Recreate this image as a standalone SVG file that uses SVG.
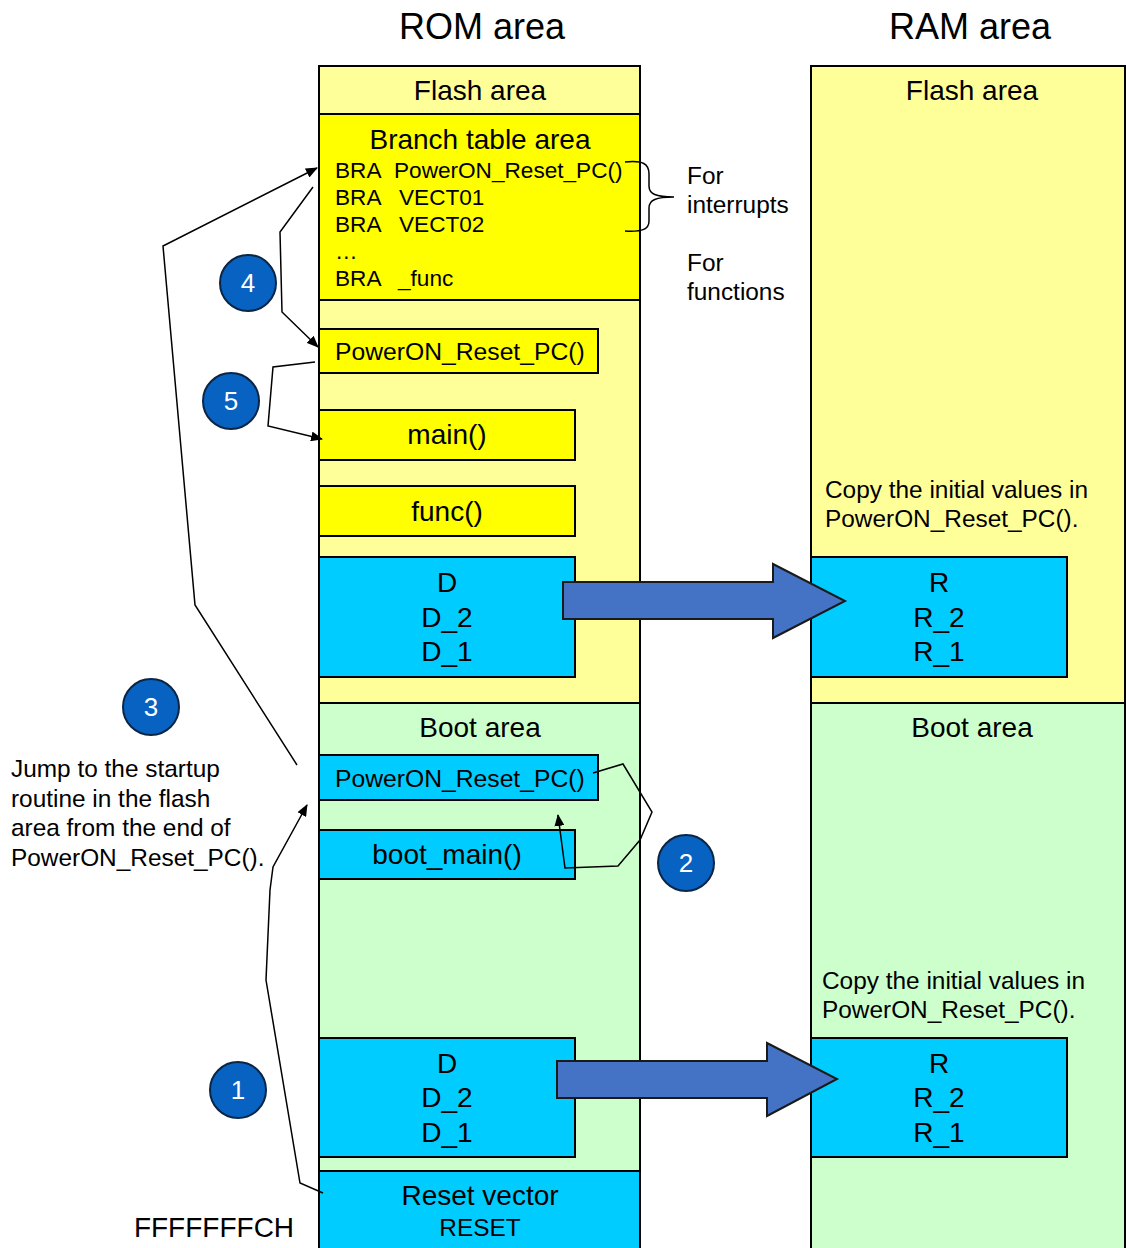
<svg xmlns="http://www.w3.org/2000/svg" width="1126" height="1248" viewBox="0 0 1126 1248">
  <style>
    text { font-family: "Liberation Sans", Arial, sans-serif; fill: #000; }
    .box { stroke: #000; stroke-width: 2; }
    .lflash { fill: #FFFF99; }
    .yel { fill: #FFFF00; }
    .boot { fill: #CCFFCC; }
    .cyan { fill: #00CCFF; }
    .t36 { font-size: 36px; text-anchor: middle; }
    .t28 { font-size: 28px; text-anchor: middle; }
    .t24 { font-size: 24.4px; }
    .t22 { font-size: 22.6px; }
    .mid { text-anchor: middle; }
    .conn { fill: none; stroke: #000; stroke-width: 1.5; }
    .big { fill: #4472C4; stroke: #1a1a1a; stroke-width: 2; }
    .step circle { fill: #0762C2; stroke: #0B2545; stroke-width: 2; }
    .step text { fill: #fff; font-size: 26px; text-anchor: middle; }
  </style>
  <defs>
    <marker id="head" markerUnits="userSpaceOnUse" markerWidth="12" markerHeight="10" refX="11" refY="5" orient="auto">
      <path d="M0,0 L12,5 L0,10 z" fill="#000"/>
    </marker>
  </defs>

  <rect width="1126" height="1248" fill="#fff"/>

  <!-- column titles -->
  <text class="t36" x="482" y="39">ROM area</text>
  <text class="t36" x="970" y="39">RAM area</text>

  <!-- ROM column -->
  <g id="rom-flash">
    <rect class="box lflash" x="319" y="66" width="321" height="637"/>
    <text class="t28" x="480" y="100">Flash area</text>
  </g>
  <g id="branch-table">
    <rect class="box yel" x="319" y="114" width="321" height="186"/>
    <text class="t28" x="480" y="149">Branch table area</text>
    <text class="t22" x="335" y="178">BRA<tspan x="394">PowerON_Reset_PC()</tspan></text>
    <text class="t22" x="335" y="205">BRA<tspan x="399">VECT01</tspan></text>
    <text class="t22" x="335" y="232">BRA<tspan x="399">VECT02</tspan></text>
    <text class="t22" x="335" y="259">…</text>
    <text class="t22" x="335" y="286">BRA<tspan x="398">_func</tspan></text>
  </g>
  <g id="flash-reset">
    <rect class="box yel" x="319" y="329" width="279" height="44"/>
    <text x="335" y="360" style="font-size:24.7px">PowerON_Reset_PC()</text>
  </g>
  <g id="flash-main">
    <rect class="box yel" x="319" y="410" width="256" height="50"/>
    <text class="t28" x="447" y="444">main()</text>
  </g>
  <g id="flash-func">
    <rect class="box yel" x="319" y="486" width="256" height="50"/>
    <text class="t28" x="447" y="521">func()</text>
  </g>
  <g id="flash-data">
    <rect class="box cyan" x="319" y="557" width="256" height="120"/>
    <text class="t28" x="447" y="592">D</text>
    <text class="t28" x="447" y="627">D_2</text>
    <text class="t28" x="447" y="661">D_1</text>
  </g>
  <g id="rom-boot">
    <rect class="box boot" x="319" y="703" width="321" height="468"/>
    <text class="t28" x="480" y="737">Boot area</text>
  </g>
  <g id="boot-reset">
    <rect class="box cyan" x="319" y="755" width="279" height="45"/>
    <text x="335" y="787" style="font-size:24.7px">PowerON_Reset_PC()</text>
  </g>
  <g id="boot-main">
    <rect class="box cyan" x="319" y="830" width="256" height="49"/>
    <text class="t28" x="447" y="864">boot_main()</text>
  </g>
  <g id="boot-data">
    <rect class="box cyan" x="319" y="1038" width="256" height="119"/>
    <text class="t28" x="447" y="1073">D</text>
    <text class="t28" x="447" y="1107">D_2</text>
    <text class="t28" x="447" y="1142">D_1</text>
  </g>
  <g id="reset-vector">
    <rect class="box cyan" x="319" y="1171" width="321" height="82"/>
    <text class="t28" x="480" y="1205">Reset vector</text>
    <text class="t24 mid" x="480" y="1236">RESET</text>
  </g>

  <!-- RAM column -->
  <g id="ram-flash">
    <rect class="box lflash" x="811" y="66" width="314" height="637"/>
    <text class="t28" x="972" y="100">Flash area</text>
    <text class="t24" x="825" y="498">Copy the initial values in</text>
    <text class="t24" x="825" y="527">PowerON_Reset_PC().</text>
  </g>
  <g id="ram-flash-data">
    <rect class="box cyan" x="811" y="557" width="256" height="120"/>
    <text class="t28" x="939" y="592">R</text>
    <text class="t28" x="939" y="627">R_2</text>
    <text class="t28" x="939" y="661">R_1</text>
  </g>
  <g id="ram-boot">
    <rect class="box boot" x="811" y="703" width="314" height="550"/>
    <text class="t28" x="972" y="737">Boot area</text>
    <text class="t24" x="822" y="989">Copy the initial values in</text>
    <text class="t24" x="822" y="1018">PowerON_Reset_PC().</text>
  </g>
  <g id="ram-boot-data">
    <rect class="box cyan" x="811" y="1038" width="256" height="119"/>
    <text class="t28" x="939" y="1073">R</text>
    <text class="t28" x="939" y="1107">R_2</text>
    <text class="t28" x="939" y="1142">R_1</text>
  </g>

  <!-- side notes -->
  <g id="notes">
    <text class="t24" x="687" y="184">For</text>
    <text class="t24" x="687" y="213">interrupts</text>
    <text class="t24" x="687" y="271">For</text>
    <text class="t24" x="687" y="300">functions</text>
    <text class="t24" x="11" y="777">Jump to the startup</text>
    <text class="t24" x="11" y="807">routine in the flash</text>
    <text class="t24" x="11" y="836">area from the end of</text>
    <text class="t24" x="11" y="866">PowerON_Reset_PC().</text>
    <text class="t28" x="214" y="1237">FFFFFFFCH</text>
  </g>

  <!-- step markers -->
  <g id="step1" class="step"><circle cx="238" cy="1090" r="28"/><text x="238" y="1099">1</text></g>
  <g id="step2" class="step"><circle cx="686" cy="863" r="28"/><text x="686" y="872">2</text></g>
  <g id="step3" class="step"><circle cx="151" cy="707" r="28"/><text x="151" y="716">3</text></g>
  <g id="step4" class="step"><circle cx="248" cy="283" r="28"/><text x="248" y="292">4</text></g>
  <g id="step5" class="step"><circle cx="231" cy="401" r="28"/><text x="231" y="410">5</text></g>

  <!-- connectors -->
  <g id="connectors">
    <!-- interrupt brace -->
    <path class="conn" d="M625,162 C643,160 649,164 649,174 L649,186 C649,194 656,197 674,197 C656,197 649,200 649,208 L649,221 C649,229 643,232 625,231"/>
    <!-- copy arrows -->
    <polygon class="big" points="563,582 773,582 773,564 845,601 773,638 773,619 563,619"/>
    <polygon class="big" points="557,1061 767,1061 767,1043 837,1079 767,1116 767,1098 557,1098"/>
    <!-- 1: reset vector to boot PowerON_Reset_PC -->
    <polyline class="conn" points="323,1193 300,1183 266,980 270,890 273,867 307,805" marker-end="url(#head)"/>
    <!-- 2: boot PowerON_Reset_PC to boot_main and back -->
    <polyline class="conn" points="593,773 623,764 652,812 640,840 618,866 565,868 558,815" marker-end="url(#head)"/>
    <!-- 3: boot to flash branch table -->
    <polyline class="conn" points="297,765 195,605 163,246 317,168" marker-end="url(#head)"/>
    <!-- 4: branch table to flash PowerON_Reset_PC -->
    <polyline class="conn" points="313,187 280,232 282,312 318,347" marker-end="url(#head)"/>
    <!-- 5: PowerON_Reset_PC to main -->
    <polyline class="conn" points="315,362 273,367 268,426 322,439" marker-end="url(#head)"/>
  </g>
</svg>
